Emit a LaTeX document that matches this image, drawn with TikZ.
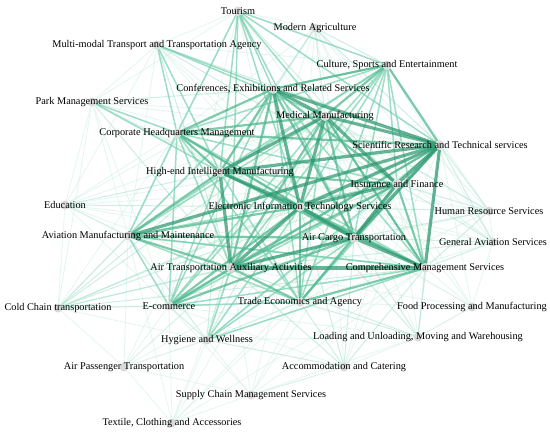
\documentclass[tikz,border=0pt]{standalone}
\usepackage{fontspec}
\setmainfont{Liberation Serif}
\pgfdeclarelayer{bg}
\pgfdeclarelayer{edges}
\pgfsetlayers{bg,edges,main}
\begin{document}
\begin{tikzpicture}[x=1pt,y=-1pt,
  dot/.style={circle,fill=black!15,draw=none,inner sep=0pt,minimum size=9pt},
  lab/.style={font=\fontsize{10.3}{11}\selectfont,text=black,inner sep=0pt},
  ta/.style={draw={rgb,255:red,45;green,152;blue,112},line width=3.2pt,opacity=.72},
  tb/.style={draw={rgb,255:red,78;green,182;blue,142},line width=2.2pt,opacity=.72},
  tc/.style={draw={rgb,255:red,118;green,208;blue,175},line width=1.5pt,opacity=.7},
  td/.style={draw={rgb,255:red,175;green,228;blue,208},line width=1pt,opacity=.6},
  te/.style={draw={rgb,255:red,210;green,240;blue,229},line width=.8pt,opacity=.6}]
\begin{pgfonlayer}{bg}
\fill[white] (0,0) rectangle (550,432);
\end{pgfonlayer}
\useasboundingbox (0,0) rectangle (550,432);
\newcommand{\nd}[4]{\node[dot,label={[lab]center:#4}] (#1) at (#2,#3) {};}
\nd{T}{238}{11}{Tourism}
\nd{MA}{315}{28}{Modern Agriculture}
\nd{MT}{157}{45}{Multi-modal Transport and Transportation Agency}
\nd{CS}{387}{65}{Culture, Sports and Entertainment}
\nd{CE}{273}{89}{Conferences, Exhibitions and Related Services}
\nd{PM}{92}{102}{Park Management Services}
\nd{MM}{325}{116}{Medical Manufacturing}
\nd{CH}{177}{133}{Corporate Headquarters Management}
\nd{SR}{440}{145}{Scientific Research and Technical services}
\nd{HI}{220}{172}{High-end Intelligent Manufacturing}
\nd{IF}{397}{184}{Insurance and Finance}
\nd{ED}{65}{205}{Education}
\nd{EI}{300}{207}{Electronic Information Technology Services}
\nd{HR}{489}{211}{Human Resource Services}
\nd{AM}{128}{236}{Aviation Manufacturing and Maintenance}
\nd{AC}{354}{238}{Air Cargo Transportation}
\nd{GA}{493}{242}{General Aviation Services}
\nd{ATA}{231}{268}{Air Transportation Auxiliary Activities}
\nd{CM}{425}{268}{Comprehensive Management Services}
\nd{CC}{58}{308}{Cold Chain transportation}
\nd{EC}{169}{306}{E-commerce}
\nd{TE}{300}{302}{Trade Economics and Agency}
\nd{FP}{472}{307}{Food Processing and Manufacturing}
\nd{HW}{207}{340}{Hygiene and Wellness}
\nd{LU}{418}{337}{Loading and Unloading, Moving and Warehousing}
\nd{AP}{124}{367}{Air Passenger Transportation}
\nd{AcC}{344}{367}{Accommodation and Catering}
\nd{SC}{251}{395}{Supply Chain Management Services}
\nd{TX}{172}{423}{Textile, Clothing and Accessories}
\begin{pgfonlayer}{edges}
% faint background web
\foreach \a/\b in {ED/CH,ED/CE,ED/MM,ED/SR,ED/IF,ED/AC,ED/ATA,ED/CM,ED/EC,ED/PM,ED/MT,ED/CC,
  TX/EC,TX/HW,TX/ATA,TX/AC,TX/EI,TX/CM,TX/TE,TX/SC,TX/AM,TX/AP,
  AP/ATA,AP/AM,AP/EC,AP/HW,AP/EI,AP/AC,AP/CC,AP/SC,AP/CM,AP/HI,
  SC/ATA,SC/AC,SC/CM,SC/TE,SC/EI,SC/HW,SC/LU,SC/AcC,SC/EC,
  FP/CM,FP/SR,FP/AC,FP/IF,FP/EI,FP/MM,FP/LU,FP/TE,FP/ATA,
  HR/CS,HR/CE,HR/HI,HR/ATA,HR/GA,HR/TE,
  GA/EI,GA/MM,GA/HI,GA/CE,GA/CS,GA/TE,GA/FP,
  PM/MM,PM/SR,PM/EI,PM/IF,PM/AC,PM/AM,PM/EC,PM/MT,PM/CM,
  MT/EI,MT/AC,MT/AM,MT/CS,MT/CM,
  CC/CE,CC/CH,CC/TE,CC/HW,CC/PM,
  LU/HW,LU/IF,LU/MM,LU/EC,LU/FP,LU/AcC,
  AcC/IF,AcC/SR,AcC/MM,AcC/EC,AcC/SC,
  MA/EI,MA/IF,MA/AC,MA/ATA,MA/CM,MA/T,MA/CH,MA/GA,MA/HR,
  T/AM,T/CM,T/TE,T/PM,T/MT,T/EC}
  \draw[te] (\a) -- (\b);
% light periphery links
\foreach \a/\b in {HR/SR,HR/CM,HR/IF,HR/EI,HR/AC,HR/MM,
  GA/SR,GA/CM,GA/AC,GA/IF,GA/ATA,
  CC/AM,CC/ATA,CC/EI,CC/HI,CC/AC,CC/CM,CC/EC,CC/IF,CC/MM,CC/SR,
  ED/AM,ED/HI,ED/EI,
  LU/CM,LU/AC,LU/ATA,LU/EI,LU/TE,LU/SR,
  AcC/TE,AcC/ATA,AcC/AC,AcC/CM,AcC/EI,AcC/HW,
  HW/HI,HW/IF,HW/MM,HW/CE,HW/EC,HW/AM,HW/TE,
  PM/CE,PM/ATA,MT/ATA,MT/SR,MT/IF,T/IF,
  MA/CE,MA/MM,MA/SR,MA/HI,MA/CS}
  \draw[td] (\a) -- (\b);
% medium links
\foreach \a/\b in {CS/CE,CS/HI,CS/EI,CS/IF,CS/AC,CS/CM,CS/ATA,CS/AM,CS/CH,CS/T,CS/TE,CS/EC,
  T/CE,T/MM,T/HI,T/CH,T/AC,T/ATA,T/EI,T/SR,
  MT/CE,MT/HI,MT/MM,MT/CH,
  PM/CH,PM/HI,
  CH/IF,CH/AC,CH/ATA,CH/CM,CH/AM,CH/TE,CH/EC,
  TE/HI,TE/MM,TE/SR,TE/IF,TE/CE,TE/AM,TE/EC,
  CM/MM,CM/CE,CM/HI,CM/AM,
  EC/HI,EC/MM,EC/SR,EC/CE,EC/IF,EC/CM,EC/AM,
  AM/MM,AM/CE,AM/IF,AM/CM,
  HW/ATA,HW/EI,HW/AC,HW/CM,HW/SR}
  \draw[tc] (\a) -- (\b);
% strong links
\foreach \a/\b in {CE/HI,CE/IF,CE/AC,CE/ATA,CE/CS,CS/SR,CS/MM,CH/MM,CH/SR,CH/HI,CH/EI,CH/CE,
  TE/EI,TE/AC,TE/ATA,TE/CM,
  MM/AC,MM/ATA,MM/CM,HI/IF,HI/AC,HI/CM,EI/CM,IF/ATA,IF/CM,SR/ATA,
  AM/EI,AM/HI,AM/AC,AM/ATA,EC/ATA,EC/AC,EC/EI}
  \draw[tb] (\a) -- (\b);
% core links
\foreach \a/\b in {CE/MM,CE/SR,CE/EI,MM/SR,MM/HI,MM/EI,MM/IF,SR/HI,SR/EI,SR/IF,SR/AC,SR/CM,
  HI/EI,HI/ATA,EI/IF,EI/AC,EI/ATA,IF/AC,AC/ATA,AC/CM,ATA/CM,SR/AM}
  \draw[ta] (\a) -- (\b);
\end{pgfonlayer}
\end{tikzpicture}
\end{document}
